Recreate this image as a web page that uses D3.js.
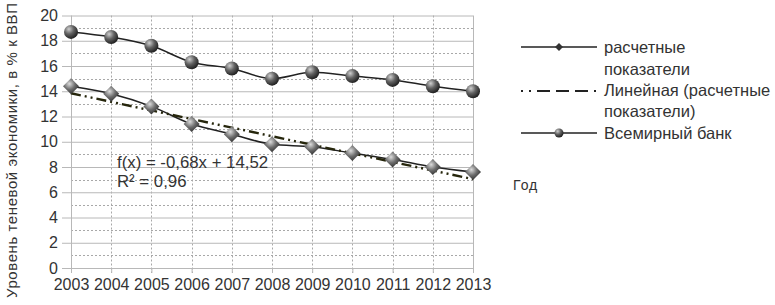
<!DOCTYPE html>
<html>
<head>
<meta charset="utf-8">
<script src="https://cdn.jsdelivr.net/npm/d3@7"></script>
<style>
  body { margin: 0; background: #fff; }
  svg { display: block; font-family: "Liberation Sans", Arial, sans-serif; }
</style>
</head>
<body>
<svg id="chart"></svg>
<script>
const width = 775;
const height = 305;

const years = [2003, 2004, 2005, 2006, 2007, 2008, 2009, 2010, 2011, 2012, 2013];
const calcValues = [14.4, 13.8, 12.8, 11.4, 10.6, 9.8, 9.6, 9.1, 8.6, 8.0, 7.6];
const wbValues = [18.7, 18.3, 17.6, 16.3, 15.8, 15.0, 15.5, 15.2, 14.9, 14.4, 14.0];
const yTicks = [0, 2, 4, 6, 8, 10, 12, 14, 16, 18, 20];
const trendSlope = -0.68;
const trendIntercept = 14.52;

const svg = d3.select("#chart")
  .attr("width", width)
  .attr("height", height);

const defs = svg.append("defs");
const ball = defs.append("radialGradient")
  .attr("id", "ball")
  .attr("cx", "35%").attr("cy", "30%").attr("r", "70%");
ball.append("stop").attr("offset", "0%").attr("stop-color", "#cfcfcf");
ball.append("stop").attr("offset", "50%").attr("stop-color", "#626262");
ball.append("stop").attr("offset", "100%").attr("stop-color", "#222");

const diam = defs.append("radialGradient")
  .attr("id", "diam")
  .attr("cx", "40%").attr("cy", "35%").attr("r", "70%");
diam.append("stop").attr("offset", "0%").attr("stop-color", "#dcdcdc");
diam.append("stop").attr("offset", "50%").attr("stop-color", "#6e6e6e");
diam.append("stop").attr("offset", "100%").attr("stop-color", "#2b2b2b");

const x = d3.scaleLinear().domain([2003, 2013]).range([71, 473]);
const y = d3.scaleLinear().domain([0, 20]).range([268, 15.5]);

const grid = svg.append("g");

// minor dashed horizontal lines at odd values
grid.selectAll("line.minor")
  .data(d3.range(1, 20, 2))
  .join("line")
  .attr("x1", x(2003)).attr("x2", x(2013))
  .attr("y1", d => Math.round(y(d)) + 0.5).attr("y2", d => Math.round(y(d)) + 0.5)
  .attr("stroke", "#a8a8a8")
  .attr("stroke-dasharray", "2,2");

// vertical dashed lines at years
grid.selectAll("line.vx")
  .data(years.slice(1, -1))
  .join("line")
  .attr("x1", d => Math.round(x(d)) + 0.5).attr("x2", d => Math.round(x(d)) + 0.5)
  .attr("y1", y(20)).attr("y2", y(0) + 5)
  .attr("stroke", "#a8a8a8")
  .attr("stroke-dasharray", "2,2");

// solid horizontal lines at the even ticks, extending left past the axis
const yAxis = d3.axisLeft(y)
  .tickValues(yTicks)
  .tickSize(x(2013) - x(2003) + 9)
  .tickPadding(4)
  .tickFormat(d3.format("d"));

svg.append("g")
  .attr("transform", `translate(${x(2013)},0)`)
  .call(yAxis)
  .call(g => g.select(".domain").remove())
  .call(g => g.selectAll(".tick line").attr("stroke", "#b8b8b8"))
  .call(g => g.selectAll(".tick text")
    .attr("font-size", 16)
    .attr("fill", "#333")
    .attr("font-family", "Liberation Sans, Arial, sans-serif"));

// left axis line and right frame
svg.append("line")
  .attr("x1", x(2003) + 0.5).attr("x2", x(2003) + 0.5)
  .attr("y1", y(20)).attr("y2", y(0) + 5)
  .attr("stroke", "#b8b8b8");
svg.append("line")
  .attr("x1", x(2013) + 0.5).attr("x2", x(2013) + 0.5)
  .attr("y1", y(20)).attr("y2", y(0) + 5)
  .attr("stroke", "#b8b8b8");

const xAxis = d3.axisBottom(x)
  .tickValues(years)
  .tickSize(5)
  .tickPadding(6)
  .tickFormat(d3.format("d"));

svg.append("g")
  .attr("transform", `translate(0,${y(0)})`)
  .call(xAxis)
  .call(g => g.select(".domain").remove())
  .call(g => g.selectAll(".tick line").attr("stroke", "#b8b8b8"))
  .call(g => g.selectAll(".tick text")
    .attr("font-size", 16)
    .attr("fill", "#333")
    .attr("font-family", "Liberation Sans, Arial, sans-serif"));

const line = d3.line()
  .x((d, i) => x(years[i]))
  .y(d => y(d))
  .curve(d3.curveMonotoneX);

// World bank series
svg.append("path")
  .datum(wbValues)
  .attr("d", line)
  .attr("fill", "none")
  .attr("stroke", "#222")
  .attr("stroke-width", 1.5);

// calculated series
svg.append("path")
  .datum(calcValues)
  .attr("d", line)
  .attr("fill", "none")
  .attr("stroke", "#222")
  .attr("stroke-width", 1.5);

// linear trend
const trend = years.map((yr, i) => trendSlope * (i + 1) + trendIntercept);
svg.append("path")
  .datum(trend)
  .attr("d", d3.line().x((d, i) => x(years[i])).y(d => y(d)))
  .attr("fill", "none")
  .attr("stroke", "#26260c")
  .attr("stroke-width", 2.4)
  .attr("stroke-dasharray", "10,4,2,4,2,4");

const diamondPath = (s) => `M0,${-s}L${s},0L0,${s}L${-s},0Z`;

svg.selectAll("path.calc")
  .data(calcValues)
  .join("path")
  .attr("class", "calc")
  .attr("transform", (d, i) => `translate(${x(years[i])},${y(d)})`)
  .attr("d", diamondPath(8))
  .attr("fill", "url(#diam)");

svg.selectAll("circle.wb")
  .data(wbValues)
  .join("circle")
  .attr("class", "wb")
  .attr("cx", (d, i) => x(years[i]))
  .attr("cy", d => y(d))
  .attr("r", 7)
  .attr("fill", "url(#ball)");

// regression label
svg.append("text")
  .attr("x", 117).attr("y", 168)
  .attr("font-size", 16.8).attr("fill", "#333")
  .text("f(x) = -0,68x + 14,52");
svg.append("text")
  .attr("x", 117).attr("y", 187)
  .attr("font-size", 16.8).attr("fill", "#333")
  .text("R² = 0,96");

// y title
svg.append("text")
  .attr("transform", `translate(17,${(3 + 298) / 2}) rotate(-90)`)
  .attr("text-anchor", "middle")
  .attr("font-size", 15)
  .attr("fill", "#333")
  .attr("textLength", 295)
  .attr("lengthAdjust", "spacing")
  .text("Уровень теневой экономики, в % к ВВП");

// legend
const legend = svg.append("g");
const lx1 = 521, lx2 = 597, lmid = 559, tx = 604;

legend.append("line")
  .attr("x1", lx1).attr("x2", lx2).attr("y1", 47).attr("y2", 47)
  .attr("stroke", "#222").attr("stroke-width", 1.3);
legend.append("path")
  .attr("transform", `translate(${lmid},47)`)
  .attr("d", diamondPath(4))
  .attr("fill", "#333");

legend.append("line")
  .attr("x1", lx1).attr("x2", lx2).attr("y1", 91).attr("y2", 91)
  .attr("stroke", "#222").attr("stroke-width", 2)
  .attr("stroke-dasharray", "2,6,2,6,13,6,13,6,13,6,2");

legend.append("line")
  .attr("x1", lx1).attr("x2", lx2).attr("y1", 133).attr("y2", 133)
  .attr("stroke", "#222").attr("stroke-width", 1.3);
legend.append("circle")
  .attr("cx", lmid).attr("cy", 133).attr("r", 4.5)
  .attr("fill", "url(#ball)");

const legendLines = [
  ["расчетные", 53],
  ["показатели", 75],
  ["Линейная (расчетные", 96],
  ["показатели)", 117],
  ["Всемирный банк", 139]
];
legend.selectAll("text")
  .data(legendLines)
  .join("text")
  .attr("x", tx)
  .attr("y", d => d[1])
  .attr("font-size", 16.5)
  .attr("fill", "#333")
  .text(d => d[0]);

svg.append("text")
  .attr("x", 513).attr("y", 190)
  .attr("font-size", 14)
  .attr("fill", "#333")
  .attr("letter-spacing", 1)
  .text("Год");
</script>
</body>
</html>
